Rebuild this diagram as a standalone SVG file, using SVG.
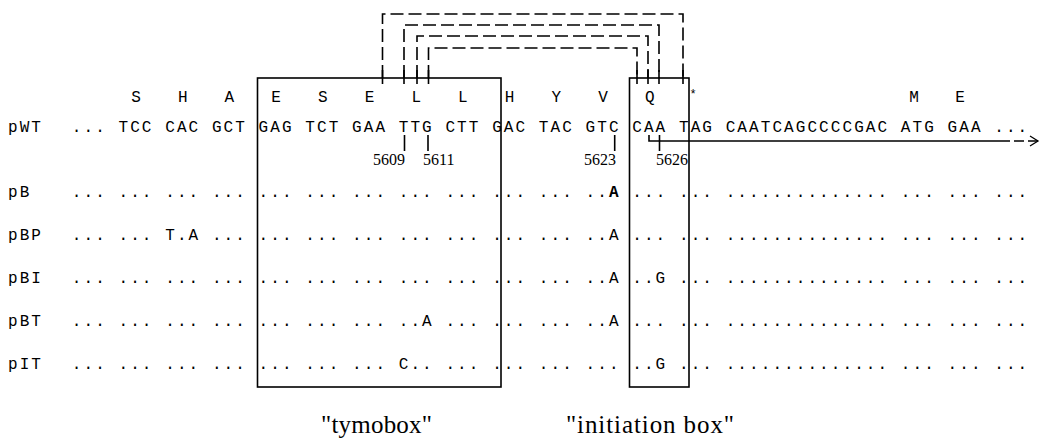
<svg xmlns="http://www.w3.org/2000/svg" width="1040" height="445" viewBox="0 0 1040 445">
<style>
.seq{font-family:"Liberation Mono","Courier New",monospace;font-size:16px;letter-spacing:2.075px;fill:#000;white-space:pre}
.aa{font-family:"Liberation Mono","Courier New",monospace;font-size:16px;fill:#000;text-anchor:middle}
.num{font-family:"Liberation Serif","Times New Roman",serif;font-size:16px;fill:#000}
.cap{font-family:"Liberation Serif","Times New Roman",serif;font-size:25px;fill:#000}
.box{fill:none;stroke:#000;stroke-width:1.6}
.dash{fill:none;stroke:#000;stroke-width:1.6;stroke-dasharray:13 5}
.tick{stroke:#000;stroke-width:1.6;fill:none}
</style>
<defs>
<marker id="open" markerWidth="12" markerHeight="12" refX="10" refY="6" orient="auto" markerUnits="userSpaceOnUse">
<path d="M2 1 L10 6 L2 11" fill="none" stroke="#000" stroke-width="1.3"/>
</marker>
</defs>
<g id="amino-acids">
<text class="aa" x="136.0" y="102">S</text>
<text class="aa" x="182.7" y="102">H</text>
<text class="aa" x="229.4" y="102">A</text>
<text class="aa" x="276.1" y="102">E</text>
<text class="aa" x="322.8" y="102">S</text>
<text class="aa" x="369.5" y="102">E</text>
<text class="aa" x="416.2" y="102">L</text>
<text class="aa" x="462.9" y="102">L</text>
<text class="aa" x="509.6" y="102">H</text>
<text class="aa" x="556.3" y="102">Y</text>
<text class="aa" x="603.0" y="102">V</text>
<text class="aa" x="649.7" y="102">Q</text>
<text class="aa" x="693" y="98" style="font-size:12px">*</text>
<text class="aa" x="914" y="102">M</text>
<text class="aa" x="960" y="102">E</text>
</g>
<g id="row-pWT">
<text class="seq" x="8" y="132">pWT</text>
<text class="seq" x="71.8" y="132">... TCC CAC GCT GAG TCT GAA TTG CTT GAC TAC GTC CAA TAG CAATCAGCCCCGAC ATG GAA ...</text>
</g>
<g id="row-pB">
<text class="seq" x="8" y="197">pB</text>
<text class="seq" x="71.8" y="197">... ... ... ... ... ... ... ... ... ... ... ..<tspan font-weight="bold">A</tspan> ... ... .............. ... ... ...</text>
</g>
<g id="row-pBP">
<text class="seq" x="8" y="240">pBP</text>
<text class="seq" x="71.8" y="240">... ... T.A ... ... ... ... ... ... ... ... ..A ... ... .............. ... ... ...</text>
</g>
<g id="row-pBI">
<text class="seq" x="8" y="283">pBI</text>
<text class="seq" x="71.8" y="283">... ... ... ... ... ... ... ... ... ... ... ..A ..G ... .............. ... ... ...</text>
</g>
<g id="row-pBT">
<text class="seq" x="8" y="326">pBT</text>
<text class="seq" x="71.8" y="326">... ... ... ... ... ... ... ..A ... ... ... ..A ... ... .............. ... ... ...</text>
</g>
<g id="row-pIT">
<text class="seq" x="8" y="369">pIT</text>
<text class="seq" x="71.8" y="369">... ... ... ... ... ... ... C.. ... ... ... ... ..G ... .............. ... ... ...</text>
</g>
<g id="tymobox">
<rect class="box" x="257.5" y="78" width="243.5" height="309"/>
<text class="cap" x="321" y="433" textLength="111" lengthAdjust="spacing">"tymobox"</text>
</g>
<g id="initiation-box">
<rect class="box" x="629.5" y="78" width="59.5" height="309"/>
<text class="cap" x="566" y="433" textLength="168" lengthAdjust="spacing">"initiation box"</text>
</g>
<g id="positions">
<text class="num" x="405" y="165" text-anchor="end">5609</text>
<text class="num" x="423" y="165">5611</text>
<text class="num" x="616" y="165" text-anchor="end">5623</text>
<text class="num" x="656" y="165">5626</text>
</g>
<g id="connectors">
<path class="dash" d="M382.5 78 V14 H683 V78"/>
<path class="dash" d="M404 78 V25 H659 V78"/>
<path class="dash" d="M417 78 V36 H648 V78"/>
<path class="dash" d="M428.5 78 V48 H637 V78"/>
<path class="tick" d="M382.5 70 V84 M404 70 V84 M417 70 V84 M428.5 70 V84 M637 70 V84 M648 70 V84 M659 70 V84 M683 70 V84"/>
<path class="tick" d="M404.5 135 V151 M428 135 V151 M614.7 135 V151 M659.5 135 V151"/>
<path class="tick" d="M649 135 V141 H1000"/>
<path class="dash" d="M1000 141 H1038" style="stroke-dasharray:10 4" marker-end="url(#open)"/>
</g>
</svg>
